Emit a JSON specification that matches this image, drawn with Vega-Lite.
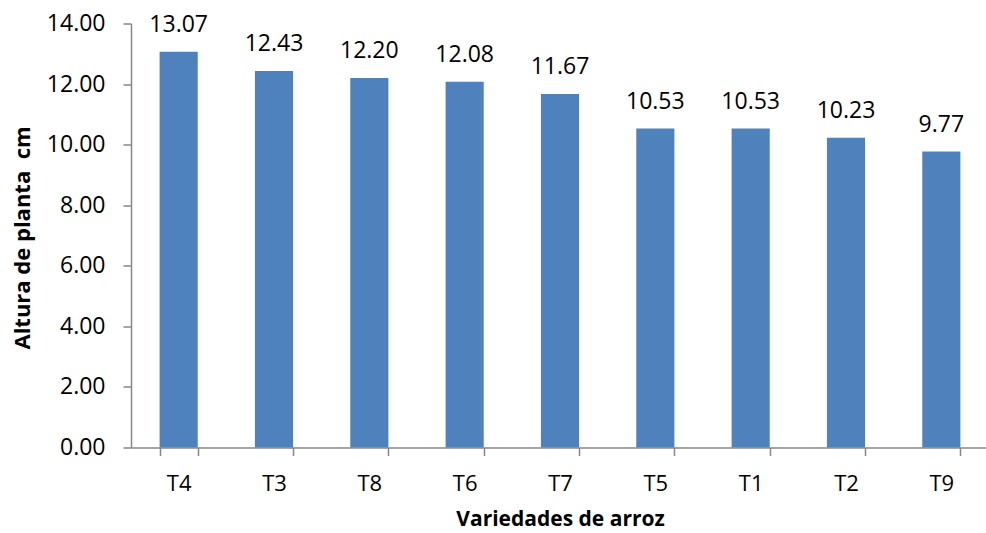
{
  "$schema": "https://vega.github.io/schema/vega-lite/v6.json",
  "autosize": {"type": "none"},
  "width": 858,
  "height": 424,
  "padding": {"left": 131, "top": 23.5, "right": 0, "bottom": 85.5},
  "background": "white",
  "config": {"view": {"stroke": null}, "font": "Open Sans"},
  "data": {
    "values": [
      {"tratamiento": "T4", "altura": 13.07},
      {"tratamiento": "T3", "altura": 12.43},
      {"tratamiento": "T8", "altura": 12.20},
      {"tratamiento": "T6", "altura": 12.08},
      {"tratamiento": "T7", "altura": 11.67},
      {"tratamiento": "T5", "altura": 10.53},
      {"tratamiento": "T1", "altura": 10.53},
      {"tratamiento": "T2", "altura": 10.23},
      {"tratamiento": "T9", "altura": 9.77}
    ]
  },
  "encoding": {
    "x": {
      "field": "tratamiento",
      "type": "nominal",
      "sort": null,
      "scale": {"paddingInner": 0.6, "paddingOuter": 0.3},
      "axis": {
        "title": "Variedades de arroz",
        "titleFont": "Open Sans",
        "titleFontSize": 21,
        "titleFontWeight": "bold",
        "titleColor": "black",
        "titleY": 72,
        "titleBaseline": "middle",
        "labelAngle": 0,
        "labelFont": "Open Sans",
        "labelFontSize": 22,
        "labelColor": "black",
        "labelPadding": 28,
        "labelBaseline": "middle",
        "tickBand": "extent",
        "tickSize": 8,
        "tickColor": "#878787",
        "tickWidth": 1.5,
        "domainColor": "#878787",
        "domainWidth": 1.5
      }
    },
    "y": {
      "field": "altura",
      "type": "quantitative",
      "scale": {"domain": [0, 14], "nice": false},
      "axis": {
        "title": "Altura de planta\u00a0 cm",
        "titleFont": "Open Sans",
        "titleFontSize": 22,
        "titleFontWeight": "bold",
        "titleColor": "black",
        "titleX": -109,
        "titleY": 214,
        "titleBaseline": "middle",
        "titleAlign": "center",
        "values": [0, 2, 4, 6, 8, 10, 12, 14],
        "format": ".2f",
        "grid": false,
        "labelFont": "Open Sans",
        "labelFontSize": 23,
        "labelColor": "black",
        "labelPadding": 18,
        "tickSize": 8,
        "tickColor": "#878787",
        "tickWidth": 1.5,
        "domainColor": "#878787",
        "domainWidth": 1.5
      }
    }
  },
  "layer": [
    {"mark": {"type": "bar", "color": "#4F81BD"}},
    {
      "mark": {"type": "text", "baseline": "middle", "dy": -27, "fontSize": 23, "font": "Open Sans", "color": "black"},
      "encoding": {"text": {"field": "altura", "type": "quantitative", "format": ".2f"}}
    }
  ]
}
